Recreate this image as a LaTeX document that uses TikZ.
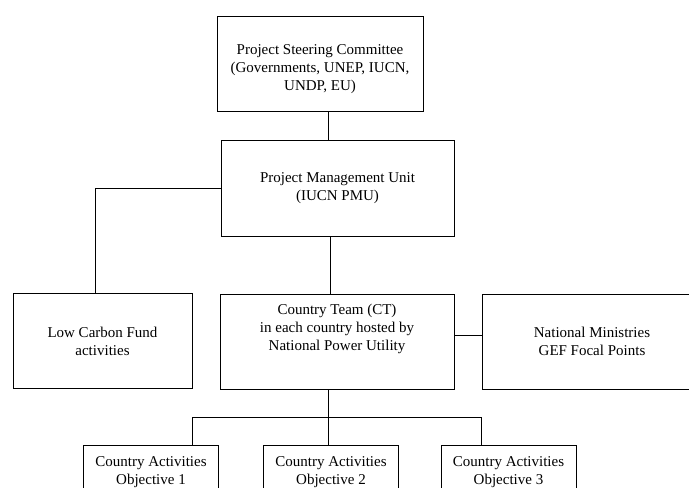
\documentclass[tikz,border=0pt]{standalone}
\usepackage{fontspec}
\setmainfont{Liberation Serif}
\usetikzlibrary{positioning, calc}
\tikzset{%
    unit/.style={%
        draw=black, line width=0.7pt, align=center, inner sep=0,
        font=\fontsize{12}{14.4}\selectfont
    },
    link/.style={%
        draw=black, line width=0.7pt
    },
}

\begin{document}
\begin{tikzpicture}[
        x=0.8pt, y=-0.8pt,
        big/.style={unit, minimum height=95*\px},
        objective/.style={unit, minimum width=135*\px, minimum height=54*\px},
    ]
        \def\px{0.8pt}
        \useasboundingbox (0,0) rectangle (689,488);

        \node[big, minimum width=206*\px] (psc) at (320,63.5) {\rule{0pt}{17pt}Project Steering Committee\\(Governments, UNEP, IUCN,\\UNDP, EU)};
        \node[big, minimum width=233*\px, minimum height=96*\px] (pmu) at (337.5,188) {Project Management Unit\\(IUCN PMU)};

        \node[big, minimum width=179*\px] (lcf) at (102.5,341) {Low Carbon Fund\\activities};
        \node[big, minimum width=234*\px] (ct) at (337,341.5) {Country Team (CT)\\in each country hosted by\\National Power Utility\\[8pt]\mbox{}};
        \node[big, minimum width=220*\px] (nm) at (592,341.5) {National Ministries\\GEF Focal Points};

        \node[objective] (obj1) at (151,472) {Country Activities\\Objective 1};
        \node[objective] (obj2) at (331,472) {Country Activities\\Objective 2};
        \node[objective] (obj3) at (508.5,472) {Country Activities\\Objective 3};

        \coordinate (pscdrop) at (328,0);
        \coordinate (pmudrop) at (330,0);
        \coordinate (lcfdrop) at (95,0);
        \coordinate (bus) at (328,417);
        \coordinate (busl) at (192,417);
        \coordinate (busr) at (481,417);

        \draw[link] (pscdrop |- psc.south) -- (pscdrop |- pmu.north);
        \draw[link] (pmu.west) -| (lcfdrop |- lcf.north);
        \draw[link] (pmudrop |- pmu.south) -- (pmudrop |- ct.north);
        \draw[link] ([yshift=6*\px]ct.east) -- ([yshift=6*\px]ct.east -| nm.west);
        \draw[link] (bus |- ct.south) -- (bus);
        \draw[link] (busl |- obj1.north) -- (busl) -- (busr) -- (busr |- obj3.north);
        \draw[link] (bus) -- (bus |- obj2.north);
    \end{tikzpicture}
\end{document}
